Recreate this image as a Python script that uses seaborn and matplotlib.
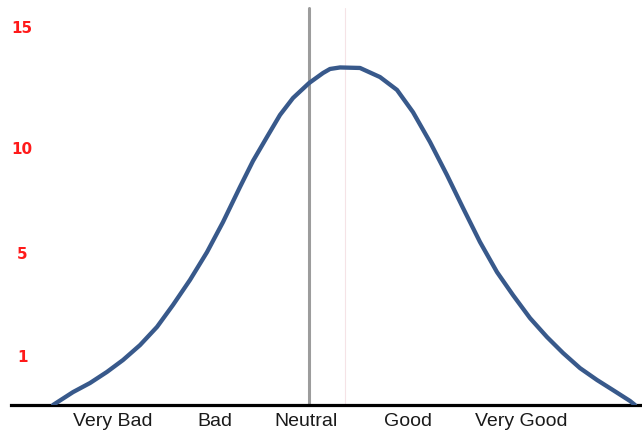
import matplotlib
matplotlib.use('Agg')
import matplotlib.pyplot as plt
import seaborn as sns
import pandas as pd

# rating scale, Neutral at 0 (one unit ~ one category step)
rating = [-2.56, -2.36, -2.19, -2.02, -1.86, -1.69, -1.52, -1.36, -1.19, -1.02,
          -0.86, -0.69, -0.56, -0.42, -0.29, -0.16, 0.0, 0.14, 0.21, 0.31,
          0.51, 0.71, 0.88, 1.04, 1.21, 1.38, 1.54, 1.71, 1.88, 2.04,
          2.21, 2.38, 2.54, 2.71, 2.88, 3.04, 3.21, 3.26]
count = [0.0, 0.51, 0.87, 1.31, 1.78, 2.37, 3.09, 3.96, 4.95, 6.05,
         7.24, 8.63, 9.66, 10.61, 11.48, 12.15, 12.74, 13.14, 13.30, 13.36,
         13.34, 12.98, 12.47, 11.59, 10.41, 9.10, 7.80, 6.45, 5.26, 4.35,
         3.44, 2.69, 2.06, 1.46, 0.99, 0.59, 0.16, 0.0]

categories = ['Very Bad', 'Bad', 'Neutral', 'Good', 'Very Good']
category_pos = [-1.96, -0.94, -0.03, 0.99, 2.12]

ytick_labels = ['15', '10', '5', '1']
ytick_pos = [14.95, 10.17, 6.01, 1.94]

neutral = 0.0
mean_line = 0.36


def main():
    sns.set_style('white')
    plt.rcParams['font.family'] = ['Liberation Sans', 'DejaVu Sans']

    df = pd.DataFrame({'rating': rating, 'count': count})

    fig = plt.figure(figsize=(6.42, 4.38), dpi=100)
    ax = fig.add_axes([11 / 642, 33 / 438, 631 / 642, 405 / 438])

    ax.axvline(mean_line, color='#f5e3e6', lw=0.8, ymax=0.98, zorder=1)
    ax.axvline(neutral, color='#9c9c9c', lw=2.2, ymax=0.98, zorder=2)

    sns.lineplot(data=df, x='rating', y='count', color='#38598b', lw=3.1,
                 ax=ax, zorder=3)
    ax.lines[-1].set_solid_joinstyle('round')
    ax.lines[-1].set_solid_capstyle('round')

    ax.set_xlim(-2.98, 3.33)
    ax.set_ylim(0, 16.03)

    sns.despine(ax=ax, left=True, top=True, right=True)
    ax.spines['bottom'].set_color('black')
    ax.spines['bottom'].set_linewidth(2.3)

    ax.set_xticks(category_pos)
    ax.set_xticklabels(categories, fontsize=14, color='#1a1a1a')
    ax.tick_params(axis='x', length=0, pad=6)

    ax.set_yticks(ytick_pos)
    ax.set_yticklabels(ytick_labels, fontsize=11, fontweight='bold',
                       color='#ff1a1a', family='DejaVu Sans')
    ax.tick_params(axis='y', length=0, pad=-8)
    for lab in ax.get_yticklabels():
        lab.set_horizontalalignment('center')

    ax.set_xlabel('')
    ax.set_ylabel('')
    ax.grid(False)

    fig.savefig('out.png', dpi=100)
    plt.close(fig)


if __name__ == '__main__':
    main()
